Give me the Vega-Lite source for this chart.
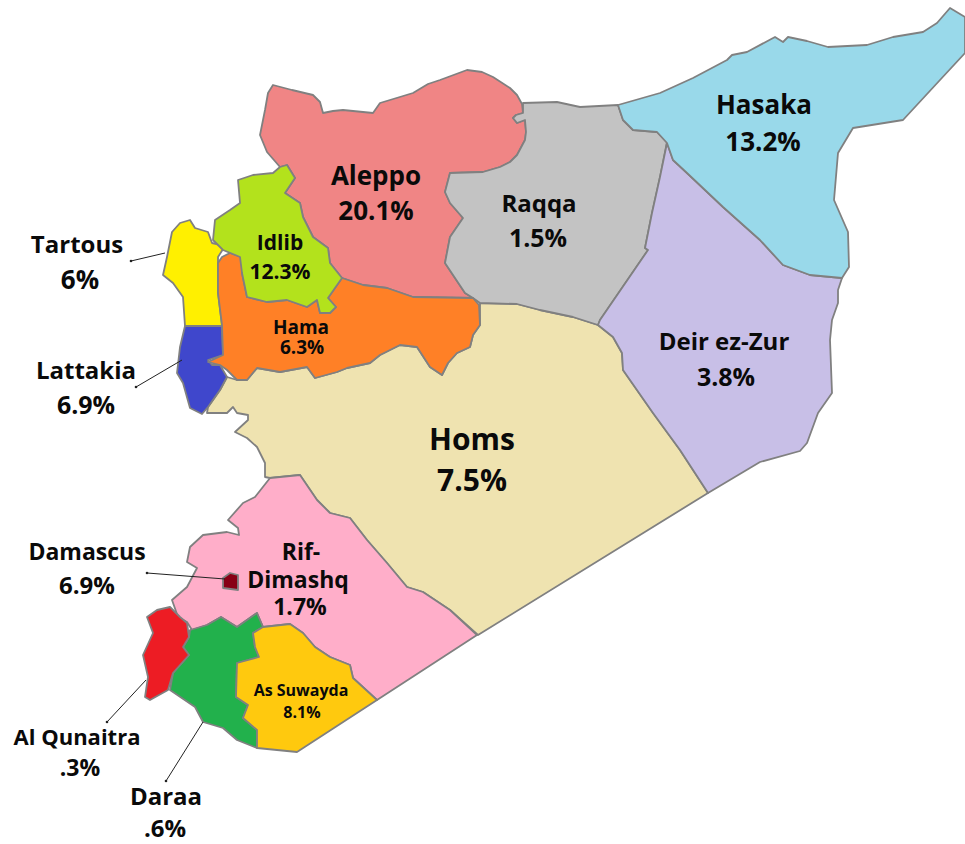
{"$schema":"https://vega.github.io/schema/vega-lite/v6.json","width":965,"height":844,"padding":0,"autosize":"none","background":"white","config":{"view":{"stroke":null}},
"projection":{"type":"identity","scale":1,"translate":[0,0]},
"datasets":{
"regions":[
{"type":"Feature","properties":{"name":"Homs","share":7.5},"geometry":{"type":"Polygon","coordinates":[[[480,303],[517,304],[540,310],[573,317],[598,325],[613,337],[622,353],[623,370],[653,413],[680,450],[708,493],[478,635],[450,610],[423,592],[407,587],[387,563],[367,540],[350,518],[330,513],[317,500],[300,475],[270,478],[265,477],[265,463],[257,447],[247,438],[235,432],[248,420],[248,415],[237,413],[233,407],[227,413],[207,413],[208,407],[213,400],[220,390],[227,377],[237,380],[247,380],[257,368],[280,372],[307,367],[315,378],[337,372],[347,368],[370,363],[380,355],[400,345],[417,347],[430,367],[442,375],[448,363],[457,353],[470,347],[473,335],[480,325],[480,303]]]}},
{"type":"Feature","properties":{"name":"Aleppo","share":20.1},"geometry":{"type":"Polygon","coordinates":[[[273,85],[292,90],[313,95],[320,102],[323,113],[333,111],[343,110],[373,113],[380,103],[413,93],[428,84],[440,80],[467,70],[482,72],[493,77],[510,88],[517,95],[522,104],[523,113],[516,115],[513,118],[517,123],[525,120],[526,132],[525,140],[517,155],[510,162],[500,167],[483,172],[450,173],[445,192],[450,203],[463,218],[450,237],[445,263],[465,293],[473,298],[413,297],[387,288],[363,285],[342,278],[330,263],[328,248],[313,237],[303,217],[300,203],[285,193],[295,178],[287,165],[280,167],[267,152],[260,135],[265,110],[268,93],[273,85]]]}},
{"type":"Feature","properties":{"name":"Raqqa","share":1.5},"geometry":{"type":"Polygon","coordinates":[[[523,103],[557,102],[580,107],[618,105],[623,120],[633,130],[657,132],[667,142],[660,177],[652,213],[645,248],[648,250],[600,320],[598,325],[573,317],[540,310],[517,304],[480,303],[473,298],[465,293],[445,263],[450,237],[463,218],[450,203],[445,192],[450,173],[483,172],[500,167],[510,162],[517,155],[525,140],[526,132],[525,120],[517,123],[513,118],[516,115],[523,113],[523,103]]]}},
{"type":"Feature","properties":{"name":"Deir ez-Zur","share":3.8},"geometry":{"type":"Polygon","coordinates":[[[667,143],[673,160],[687,173],[723,207],[760,240],[783,265],[810,275],[842,278],[838,290],[838,303],[832,320],[830,340],[832,393],[818,413],[807,443],[800,451],[760,462],[708,493],[680,450],[653,413],[623,370],[622,353],[613,337],[598,325],[600,320],[648,250],[645,248],[652,213],[660,177],[667,143]]]}},
{"type":"Feature","properties":{"name":"Hasaka","share":13.2},"geometry":{"type":"Polygon","coordinates":[[[618,105],[660,93],[693,78],[727,60],[732,55],[747,52],[775,37],[783,42],[788,37],[807,41],[828,47],[867,45],[893,37],[923,32],[937,23],[950,8],[965,17],[965,53],[940,80],[903,120],[853,128],[838,153],[834,200],[848,232],[849,267],[842,278],[810,275],[783,265],[760,240],[723,207],[687,173],[673,160],[667,143],[657,132],[633,130],[623,120],[618,105]]]}},
{"type":"Feature","properties":{"name":"Tartous","share":6},"geometry":{"type":"Polygon","coordinates":[[[190,220],[195,228],[208,232],[212,243],[225,246],[218,257],[218,293],[222,326],[185,326],[183,297],[173,283],[163,275],[167,257],[172,232],[180,223],[190,220]]]}},
{"type":"Feature","properties":{"name":"Lattakia","share":6.9},"geometry":{"type":"Polygon","coordinates":[[[185,326],[222,326],[223,355],[208,360],[212,365],[220,365],[227,377],[220,390],[208,407],[202,414],[190,408],[183,383],[177,373],[180,347],[185,326]]]}},
{"type":"Feature","properties":{"name":"Hama","share":6.3},"geometry":{"type":"Polygon","coordinates":[[[230,253],[242,257],[242,273],[247,297],[267,302],[287,300],[307,307],[317,300],[320,313],[330,313],[336,307],[328,298],[342,278],[363,285],[387,288],[413,297],[473,298],[479,305],[480,325],[473,335],[470,347],[457,353],[448,363],[442,375],[430,367],[417,347],[400,345],[380,355],[370,363],[347,368],[337,372],[315,378],[307,367],[280,372],[257,368],[247,380],[237,380],[227,370],[220,365],[208,362],[223,355],[222,325],[218,293],[218,263],[222,257],[230,253]]]}},
{"type":"Feature","properties":{"name":"Idlib","share":12.3},"geometry":{"type":"Polygon","coordinates":[[[287,165],[295,178],[285,193],[300,203],[303,217],[313,237],[328,248],[330,263],[342,278],[328,298],[336,307],[330,313],[320,313],[317,300],[307,307],[287,300],[267,302],[247,297],[242,273],[240,257],[223,250],[213,240],[215,220],[230,210],[240,203],[238,180],[253,175],[273,173],[280,167],[287,165]]]}},
{"type":"Feature","properties":{"name":"Rif-Dimashq","share":1.7},"geometry":{"type":"Polygon","coordinates":[[[300,475],[317,500],[330,513],[350,518],[367,540],[387,563],[407,587],[423,592],[450,610],[477,635],[377,700],[353,678],[350,665],[330,657],[315,647],[303,633],[290,624],[263,627],[257,613],[237,627],[221,617],[207,625],[192,630],[187,622],[178,617],[172,600],[187,587],[197,568],[187,562],[190,547],[203,535],[227,532],[239,535],[238,528],[228,520],[243,503],[255,497],[270,478],[300,475]]]}},
{"type":"Feature","properties":{"name":"Damascus","share":6.9},"geometry":{"type":"Polygon","coordinates":[[[230,573],[238,575],[238,590],[223,588],[223,578],[230,573]]]}},
{"type":"Feature","properties":{"name":"Daraa","share":0.6},"geometry":{"type":"Polygon","coordinates":[[[190,630],[207,625],[221,617],[237,627],[257,613],[263,627],[253,633],[255,647],[259,657],[237,663],[236,697],[248,705],[243,718],[257,730],[257,748],[237,740],[223,728],[203,722],[195,707],[170,690],[173,673],[189,655],[183,647],[189,637],[190,630]]]}},
{"type":"Feature","properties":{"name":"As Suwayda","share":8.1},"geometry":{"type":"Polygon","coordinates":[[[263,627],[290,624],[303,633],[315,647],[330,657],[350,665],[353,678],[377,700],[297,752],[257,748],[257,730],[243,718],[248,705],[236,697],[237,663],[259,657],[255,647],[253,633],[263,627]]]}},
{"type":"Feature","properties":{"name":"Al Qunaitra","share":0.3},"geometry":{"type":"Polygon","coordinates":[[[170,607],[180,617],[187,623],[189,637],[183,647],[189,655],[173,673],[168,690],[150,700],[145,697],[148,677],[143,655],[153,633],[147,617],[157,610],[170,607]]]}}
],
"leaders":[
{"name":"Tartous","lon":131,"lat":261,"lon2":165,"lat2":253},
{"name":"Lattakia","lon":136,"lat":387,"lon2":182,"lat2":360},
{"name":"Damascus","lon":147,"lat":573,"lon2":225,"lat2":579},
{"name":"Al Qunaitra","lon":107,"lat":722,"lon2":146,"lat2":680},
{"name":"Daraa","lon":166,"lat":781,"lon2":203,"lat2":722}
],
"labels":[
{"text":"Aleppo","tier":"t26","lon":376,"lat":177},{"text":"20.1%","tier":"t26","lon":376,"lat":212},
{"text":"Hasaka","tier":"t26","lon":764,"lat":106},{"text":"13.2%","tier":"t26","lon":763,"lat":143},
{"text":"Raqqa","tier":"t24","lon":539,"lat":205},{"text":"1.5%","tier":"t25","lon":538,"lat":239},
{"text":"Idlib","tier":"t21","lon":280,"lat":244},{"text":"12.3%","tier":"t21","lon":280,"lat":273},
{"text":"Hama","tier":"t19","lon":301,"lat":328},{"text":"6.3%","tier":"t19","lon":302,"lat":348},
{"text":"Tartous","tier":"t24","lon":77,"lat":246},{"text":"6%","tier":"t26","lon":80,"lat":281},
{"text":"Lattakia","tier":"t24","lon":86,"lat":372},{"text":"6.9%","tier":"t25","lon":86,"lat":406},
{"text":"Deir ez-Zur","tier":"t24","lon":724,"lat":343},{"text":"3.8%","tier":"t25","lon":726,"lat":378},
{"text":"Homs","tier":"t30","lon":472,"lat":441},{"text":"7.5%","tier":"t30","lon":472,"lat":482},
{"text":"Rif-","tier":"t23","lon":301,"lat":553},{"text":"Dimashq","tier":"t23","lon":298,"lat":581},{"text":"1.7%","tier":"t23","lon":300,"lat":608},
{"text":"Damascus","tier":"t23","lon":87,"lat":553},{"text":"6.9%","tier":"t24","lon":87,"lat":587},
{"text":"As Suwayda","tier":"t16","lon":301,"lat":691},{"text":"8.1%","tier":"t16","lon":302,"lat":713},
{"text":"Al Qunaitra","tier":"t22","lon":77,"lat":738},{"text":".3%","tier":"t23","lon":80,"lat":769},
{"text":"Daraa","tier":"t24","lon":166,"lat":798},{"text":".6%","tier":"t24","lon":165,"lat":830}
]},
"layer":[
{"data":{"name":"regions"},"mark":{"type":"geoshape","stroke":"#808080","strokeWidth":1.8,"strokeJoin":"round"},
"encoding":{"color":{"field":"properties.name","type":"nominal","legend":null,"scale":{"domain":["Homs","Aleppo","Raqqa","Deir ez-Zur","Hasaka","Tartous","Lattakia","Hama","Idlib","Rif-Dimashq","Damascus","Daraa","As Suwayda","Al Qunaitra"],"range":["#EFE3B0","#F08585","#C3C3C3","#C8BFE7","#99D9EA","#FFF000","#3F47CC","#FF8026","#B3E21C","#FFAEC9","#880015","#22B14C","#FFC90E","#ED1C24"]}}}},
{"data":{"name":"leaders"},"mark":{"type":"rule","color":"#222222","strokeWidth":1},
"encoding":{"longitude":{"field":"lon","type":"quantitative"},"latitude":{"field":"lat","type":"quantitative"},"longitude2":{"field":"lon2"},"latitude2":{"field":"lat2"}}},
{"data":{"name":"leaders"},"mark":{"type":"circle","color":"#222222","size":7,"opacity":1},
"encoding":{"longitude":{"field":"lon","type":"quantitative"},"latitude":{"field":"lat","type":"quantitative"}}},
{"data":{"name":"labels"},"mark":{"type":"text","font":"Open Sans","fontWeight":"bold","color":"#0a0a0a","align":"center","baseline":"middle"},
"encoding":{"longitude":{"field":"lon","type":"quantitative"},"latitude":{"field":"lat","type":"quantitative"},"text":{"field":"text","type":"nominal"},
"size":{"field":"tier","type":"nominal","legend":null,"scale":{"type":"ordinal","domain":["t16","t19","t21","t22","t23","t24","t25","t26","t30"],"range":[16,19,21,22,23,24,25,26,30]}}}}
]}
